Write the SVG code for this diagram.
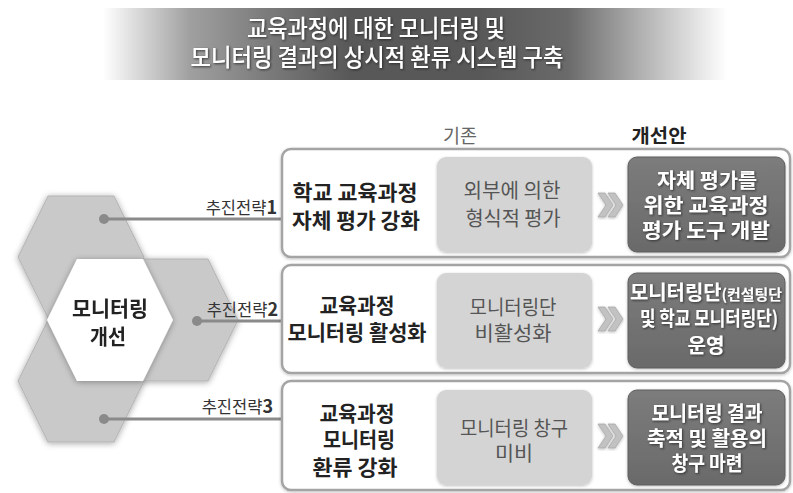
<svg xmlns="http://www.w3.org/2000/svg" width="793" height="493" viewBox="0 0 793 493">
<defs>
  <linearGradient id="banner" x1="103" y1="0" x2="727" y2="0" gradientUnits="userSpaceOnUse">
    <stop offset="0" stop-color="#ffffff"/>
    <stop offset="0.139" stop-color="#a0a0a0"/>
    <stop offset="0.252" stop-color="#7e7e7e"/>
    <stop offset="0.396" stop-color="#585858"/>
    <stop offset="0.604" stop-color="#585858"/>
    <stop offset="0.744" stop-color="#6a6a6a"/>
    <stop offset="0.861" stop-color="#b0b0b0"/>
    <stop offset="1" stop-color="#ffffff"/>
  </linearGradient>
  <linearGradient id="dark" x1="0" y1="0" x2="0" y2="1">
    <stop offset="0" stop-color="#7c7c7c"/>
    <stop offset="1" stop-color="#6a6a6a"/>
  </linearGradient>
  <filter id="shadow" x="-20%" y="-20%" width="140%" height="140%">
    <feGaussianBlur in="SourceAlpha" stdDeviation="3"/>
    <feOffset dx="0" dy="1" result="b"/>
    <feFlood flood-color="#000" flood-opacity="0.35"/>
    <feComposite in2="b" operator="in"/>
    <feMerge><feMergeNode/><feMergeNode in="SourceGraphic"/></feMerge>
  </filter>
  <filter id="boxshadow" x="-5%" y="-10%" width="110%" height="120%">
    <feGaussianBlur in="SourceAlpha" stdDeviation="1.5"/>
    <feOffset dx="0" dy="1" result="b"/>
    <feFlood flood-color="#000" flood-opacity="0.25"/>
    <feComposite in2="b" operator="in"/>
    <feMerge><feMergeNode/><feMergeNode in="SourceGraphic"/></feMerge>
  </filter>
  <filter id="txtshadow" x="-10%" y="-20%" width="120%" height="140%">
    <feDropShadow dx="1" dy="1" stdDeviation="0.8" flood-color="#222" flood-opacity="0.8"/>
  </filter>
  <style>
    text { font-family: "Noto Sans CJK KR", "Noto Sans", sans-serif; }
    .title { font-size: 24px; font-weight: 500; fill: #ffffff; text-anchor: middle; }
    .hdr { font-size: 19px; text-anchor: middle; }
    .left { font-size: 21px; font-weight: bold; fill: #222222; text-anchor: middle; }
    .mid { font-size: 20px; fill: #555555; text-anchor: middle; }
    .right { font-size: 20px; font-weight: bold; fill: #ffffff; text-anchor: middle; }
    .lbl { font-size: 16.5px; fill: #333333; text-anchor: end; }
    .outer { fill: #ffffff; stroke: #a4a4a4; stroke-width: 2.5; }
    .midbox { fill: #d4d4d4; }
    .rbox { fill: url(#dark); stroke: #5e5e5e; stroke-width: 1; }
    .hex { fill: #c9c9c9; stroke: #b3b3b3; stroke-width: 1; }
    .chev { fill: #c2c2c2; stroke: #a8a8a8; stroke-width: 0.8; }
    .conn { stroke: #8a8a8a; stroke-width: 3; fill: none; }
    .dot { fill: #8a8a8a; }
  </style>
</defs>

<g id="title">
  <rect x="103" y="8" width="624" height="72" fill="url(#banner)"/>
  <g filter="url(#txtshadow)">
    <text class="title" x="376" y="37" textLength="258" lengthAdjust="spacingAndGlyphs">교육과정에 대한 모니터링 및</text>
    <text class="title" x="377" y="66" textLength="373" lengthAdjust="spacingAndGlyphs">모니터링 결과의 상시적 환류 시스템 구축</text>
  </g>
</g>

<g id="headers">
  <text class="hdr" x="460" y="143" fill="#666666" textLength="34" lengthAdjust="spacingAndGlyphs">기존</text>
  <text class="hdr" x="659" y="143" fill="#222222" font-weight="bold" textLength="55" lengthAdjust="spacingAndGlyphs">개선안</text>
</g>

<g id="hexagons" filter="url(#shadow)">
  <polygon class="hex" points="112,320 142,259 208,259 238,320 208,381 142,381"/>
  <polygon class="hex" points="18,257 48,196 114,196 144,257 114,318 48,318"/>
  <polygon class="hex" points="18,381 48,320 114,320 144,381 114,442 48,442"/>
</g>
<g id="center-node" filter="url(#shadow)">
  <polygon points="47,320 77,259 143,259 173,320 143,381 77,381" fill="#ffffff"/>
  <text class="left" x="110" y="316" font-size="22" textLength="76" lengthAdjust="spacingAndGlyphs">모니터링</text>
  <text class="left" x="108" y="344" font-size="22" textLength="36" lengthAdjust="spacingAndGlyphs">개선</text>
</g>

<g id="connectors">
  <line class="conn" x1="104" y1="219" x2="282" y2="219"/>
  <line class="conn" x1="197" y1="321" x2="282" y2="321"/>
  <line class="conn" x1="104" y1="419" x2="282" y2="419"/>
  <circle class="dot" cx="104" cy="219" r="5"/>
  <circle class="dot" cx="197" cy="321" r="5"/>
  <circle class="dot" cx="104" cy="419" r="5"/>
  <text class="lbl" x="277" y="214">추진전략<tspan font-weight="bold" font-size="18">1</tspan></text>
  <text class="lbl" x="278" y="316">추진전략<tspan font-weight="bold" font-size="18">2</tspan></text>
  <text class="lbl" x="273" y="413">추진전략<tspan font-weight="bold" font-size="18">3</tspan></text>
</g>

<g id="strategy1">
  <rect class="outer" x="282" y="149" width="508" height="108" rx="9" filter="url(#boxshadow)"/>
  <text class="left" x="355" y="200" textLength="125" lengthAdjust="spacingAndGlyphs">학교 교육과정</text>
  <text class="left" x="356" y="228" textLength="128" lengthAdjust="spacingAndGlyphs">자체 평가 강화</text>
  <rect class="midbox" x="437" y="157" width="155" height="95" rx="9" filter="url(#boxshadow)"/>
  <text class="mid" x="512" y="198" textLength="97" lengthAdjust="spacingAndGlyphs">외부에 의한</text>
  <text class="mid" x="513" y="226" textLength="95" lengthAdjust="spacingAndGlyphs">형식적 평가</text>
  <g filter="url(#boxshadow)">
    <polygon class="chev" points="598,193 605,193 613,205 605,217 598,217 606,205"/>
    <polygon class="chev" points="608,193 615,193 623,205 615,217 608,217 616,205"/>
  </g>
  <rect class="rbox" x="628" y="157" width="157" height="95" rx="9" filter="url(#boxshadow)"/>
  <g filter="url(#txtshadow)">
    <text class="right" x="707" y="188" textLength="100" lengthAdjust="spacingAndGlyphs">자체 평가를</text>
    <text class="right" x="706" y="213" textLength="125" lengthAdjust="spacingAndGlyphs">위한 교육과정</text>
    <text class="right" x="706" y="238" textLength="128" lengthAdjust="spacingAndGlyphs">평가 도구 개발</text>
  </g>
</g>

<g id="strategy2">
  <rect class="outer" x="282" y="265" width="508" height="108" rx="9" filter="url(#boxshadow)"/>
  <text class="left" x="357" y="313" textLength="75" lengthAdjust="spacingAndGlyphs">교육과정</text>
  <text class="left" x="357" y="340" textLength="139" lengthAdjust="spacingAndGlyphs">모니터링 활성화</text>
  <rect class="midbox" x="437" y="273" width="155" height="95" rx="9" filter="url(#boxshadow)"/>
  <text class="mid" x="513" y="315" textLength="87" lengthAdjust="spacingAndGlyphs">모니터링단</text>
  <text class="mid" x="513" y="341" textLength="77" lengthAdjust="spacingAndGlyphs">비활성화</text>
  <g filter="url(#boxshadow)">
    <polygon class="chev" points="598,307 605,307 613,319 605,331 598,331 606,319"/>
    <polygon class="chev" points="608,307 615,307 623,319 615,331 608,331 616,319"/>
  </g>
  <rect class="rbox" x="628" y="273" width="157" height="95" rx="9" filter="url(#boxshadow)"/>
  <g filter="url(#txtshadow)">
    <text class="right" x="706" y="300" font-size="19" textLength="152" lengthAdjust="spacingAndGlyphs">모니터링단<tspan font-size="15">(컨설팅단</tspan></text>
    <text class="right" x="709" y="326" font-size="16" textLength="138" lengthAdjust="spacingAndGlyphs">및 학교 모니터링단)</text>
    <text class="right" x="706" y="353" font-size="21" textLength="37" lengthAdjust="spacingAndGlyphs">운영</text>
  </g>
</g>

<g id="strategy3">
  <rect class="outer" x="282" y="381" width="508" height="109" rx="9" filter="url(#boxshadow)"/>
  <text class="left" x="357" y="421" textLength="75" lengthAdjust="spacingAndGlyphs">교육과정</text>
  <text class="left" x="359" y="447" textLength="72" lengthAdjust="spacingAndGlyphs">모니터링</text>
  <text class="left" x="355" y="475" textLength="85" lengthAdjust="spacingAndGlyphs">환류 강화</text>
  <rect class="midbox" x="437" y="390" width="155" height="95" rx="9" filter="url(#boxshadow)"/>
  <text class="mid" x="514" y="436" textLength="108" lengthAdjust="spacingAndGlyphs">모니터링 창구</text>
  <text class="mid" x="514" y="461" textLength="38" lengthAdjust="spacingAndGlyphs">미비</text>
  <g filter="url(#boxshadow)">
    <polygon class="chev" points="598,424 605,424 613,436 605,448 598,448 606,436"/>
    <polygon class="chev" points="608,424 615,424 623,436 615,448 608,448 616,436"/>
  </g>
  <rect class="rbox" x="628" y="390" width="157" height="95" rx="9" filter="url(#boxshadow)"/>
  <g filter="url(#txtshadow)">
    <text class="right" x="707" y="421" textLength="111" lengthAdjust="spacingAndGlyphs">모니터링 결과</text>
    <text class="right" x="707" y="446" textLength="120" lengthAdjust="spacingAndGlyphs">축적 및 활용의</text>
    <text class="right" x="707" y="471" textLength="71" lengthAdjust="spacingAndGlyphs">창구 마련</text>
  </g>
</g>
</svg>
